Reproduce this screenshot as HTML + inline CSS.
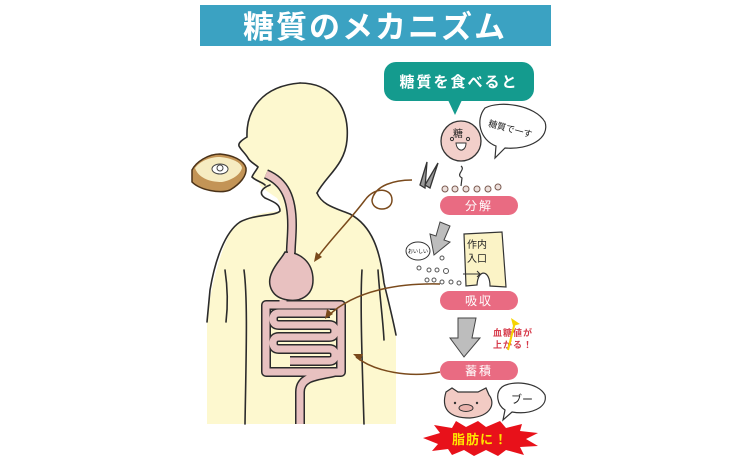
<!DOCTYPE html>
<html><head><meta charset="utf-8"><style>
html,body{margin:0;padding:0;background:#fff;}
svg{display:block;}
text{font-family:"Liberation Sans","Noto Sans CJK JP",sans-serif;}
</style></head><body>
<svg width="750" height="464" viewBox="0 0 750 464" xmlns="http://www.w3.org/2000/svg">
<rect width="750" height="464" fill="#fff"/>
<rect x="200" y="5" width="351" height="41" fill="#3ba2c2"/>
<text x="375" y="38" font-size="31" font-weight="bold" fill="#fff" text-anchor="middle" letter-spacing="2">糖質のメカニズム</text>

<path d="M300,83 C330,83 350,105 347,140 C345,165 326,176 317,193 C322,205 335,208 350,214 C372,226 380,250 384,283 L396,335 L396,424 L207,424 L207,320 C210,290 220,250 233,227 C248,214 268,212 280,211 C282,205 278,200 277,198 C268,192 262,188 260,185 C258,180 255,178 252,177 C256,172 258,168 258,167 C252,162 248,160 248,158 C244,152 240,149 238,145 C240,140 245,137 247,137 C245,120 255,88 300,83 Z" fill="#fdf8cf"/>
<g fill="none" stroke="#2b2b2b" stroke-width="1.6" stroke-linecap="round">
<path d="M317,193 C322,205 335,208 350,214 C372,226 380,250 384,283 C388,300 392,315 396,335"/>
<path d="M300,83 C330,83 350,105 347,140 C345,165 326,176 317,193"/>
<path d="M300,83 C262,86 246,110 247,137 C242,140 238,143 239,146 C241,150 245,153 248,158 C250,162 255,164 258,167 C256,171 253,174 252,177 C256,181 262,182 265,185"/>
<path d="M270,185 C262,188 258,193 265,198 C274,202 280,204 280,211 C276,216 255,214 240,222 C225,232 215,260 210,290 L207,322"/>
<path d="M225,270 C228,290 228,305 226,322"/>
<path d="M244,270 C248,300 246,360 245,424"/>
<path d="M362,270 C360,300 362,360 364,424"/>
<path d="M378,270 C380,300 383,320 384,340"/>
</g>
<!-- digestive tract -->
<defs>
<g id="tract">
<path d="M266,174 C285,182 292,198 292,225 C292,240 290,250 291,262"/>
<path d="M283,300 L283,305 L341,305 L341,372 L266,372 L266,305 L283,305"/>
<path d="M335,372 C318,376 300,376 300,392 L300,424"/>
<path d="M330,313 L279,313 Q273,313 273,319 Q273,325 279,325 L329,325 Q335,325 335,331 Q335,337 329,337 L279,337 Q273,337 273,343 Q273,349 279,349 L329,349 Q335,349 335,355 Q335,361 329,361 L290,361"/>
</g>
</defs>
<use href="#tract" fill="none" stroke="#2b2b2b" stroke-width="10" stroke-linejoin="round" stroke-linecap="butt"/>
<use href="#tract" fill="none" stroke="#e8c1c0" stroke-width="7" stroke-linejoin="round" stroke-linecap="butt"/>
<path d="M285,252 C300,252 313,262 313,280 C313,296 300,302 288,300 C272,298 266,285 272,272 C276,263 282,258 285,252Z" fill="#e8c1c0" stroke="#2b2b2b" stroke-width="1.5"/>
<path d="M288,246 L294,246 L294,258 L288,258Z" fill="#e8c1c0"/>
<!-- toast -->
<path d="M192,170 C196,162 208,154 220,154 C232,155 244,160 246,168 C247,176 240,184 230,190 C220,194 200,190 192,182 Z" fill="#c39456" stroke="#4a3218" stroke-width="1.5"/>
<path d="M195,168 C200,161 210,157 220,157 C231,158 241,162 242,168 C240,175 232,180 222,182 C208,182 198,177 195,168 Z" fill="#f6ecc2"/>
<ellipse cx="220" cy="169" rx="8" ry="5" fill="#fff" stroke="#444" stroke-width="1"/>
<circle cx="220" cy="168" r="3" fill="#fff" stroke="#444" stroke-width="1"/>

<g fill="none" stroke="#7a4a1c" stroke-width="1.5">
<path d="M412,180 C395,180 375,185 372,200 C372,212 392,212 392,200 C392,188 375,186 365,200 C350,220 330,240 317,258"/>
<path d="M440,284 C400,283 355,290 328,316"/>
<path d="M440,372 C410,378 375,372 356,357"/>
</g>
<g fill="#7a4a1c">
<polygon points="314,262 316,252 322,257"/>
<polygon points="325,319 327,309 333,314"/>
<polygon points="353,354 363,354 360,361"/>
</g>

<rect x="384" y="62" width="150" height="39" rx="12" fill="#149b8e"/>
<polygon points="448,100 462,100 455,115" fill="#149b8e"/>
<text x="459" y="87" font-size="15" font-weight="bold" fill="#fff" text-anchor="middle" letter-spacing="2">糖質を食べると</text>
<circle cx="461" cy="141" r="20" fill="#f2cfca" stroke="#333" stroke-width="1.3"/>
<text x="458" y="137" font-size="10" fill="#222" text-anchor="middle">糖</text>
<circle cx="452" cy="139" r="1.6" fill="none" stroke="#333"/>
<circle cx="468" cy="139" r="1.6" fill="none" stroke="#333"/>
<path d="M456,143 L466,143 C466,152 457,153 456,143Z" fill="#fff" stroke="#333" stroke-width="1"/>
<path d="M485,108 C500,100 535,105 545,122 C550,138 530,150 505,148 L495,158 L496,146 C480,140 475,120 485,108Z" fill="#fff" stroke="#333" stroke-width="1.2"/>
<text x="510" y="132" font-size="9" fill="#222" text-anchor="middle" transform="rotate(15 510 130)">糖質で一す</text>
<g stroke="#333" stroke-width="1.3" fill="#999">
<path d="M427,162 L420,185 L425,188 Z"/>
<path d="M438,163 L425,185 L430,188 Z"/>
</g>
<path d="M461,166 C466,170 455,174 462,178 L461,186" fill="none" stroke="#333" stroke-width="1.2"/>
<g fill="#ede0dc" stroke="#7a5a50" stroke-width="1">
<circle cx="445" cy="189" r="3"/><circle cx="455" cy="189" r="3"/><circle cx="466" cy="189" r="3"/><circle cx="477" cy="189" r="3"/><circle cx="488" cy="189" r="3"/><circle cx="498" cy="187" r="3"/>
</g>
<rect x="440" y="196" width="78" height="19" rx="9.5" fill="#e96b82"/>
<text x="479" y="210" font-size="12" fill="#fff" text-anchor="middle" letter-spacing="2">分解</text>
<rect x="440" y="291" width="78" height="19" rx="9.5" fill="#e96b82"/>
<text x="479" y="305" font-size="12" fill="#fff" text-anchor="middle" letter-spacing="2">吸収</text>
<rect x="440" y="361" width="78" height="19" rx="9.5" fill="#e96b82"/>
<text x="479" y="375" font-size="12" fill="#fff" text-anchor="middle" letter-spacing="2">蓄積</text>
<polygon points="440,222 450,226 444,240 450,242 434,255 430,234 436,236" fill="#bdbdbd" stroke="#444" stroke-width="1"/>
<polygon points="458,318 476,318 472,338 480,338 464,357 450,338 458,338" fill="#bdbdbd" stroke="#444" stroke-width="1"/>
<path d="M464,234 L502,232 L506,287 L490,286 C490,270 478,268 477,285 L466,286 Z" fill="#fbf3c6" stroke="#333" stroke-width="1.2"/>
<text x="467" y="248" font-size="10" fill="#222">作内</text>
<text x="467" y="262" font-size="10" fill="#222">入口</text>
<path d="M463,274 L480,274 M477,271 L480,274 L477,277" fill="none" stroke="#333" stroke-width="1"/>
<ellipse cx="418" cy="251" rx="12" ry="9" fill="#fff" stroke="#333" stroke-width="1"/>
<text x="418" y="253" font-size="5" text-anchor="middle">おいしい</text>
<g fill="#fff" stroke="#555" stroke-width="1">
<circle cx="419" cy="268" r="2"/><circle cx="429" cy="270" r="2"/><circle cx="437" cy="270" r="2"/><circle cx="446" cy="271" r="2.5"/><circle cx="442" cy="258" r="2"/>
<circle cx="427" cy="280" r="2"/><circle cx="434" cy="280" r="2"/><circle cx="442" cy="282" r="2"/><circle cx="451" cy="282" r="2"/><circle cx="459" cy="283" r="2"/>
</g>
<text x="493" y="336" font-size="9" font-weight="bold" fill="#d63a4a" letter-spacing="1">血糖値が</text>
<text x="493" y="348" font-size="9" font-weight="bold" fill="#d63a4a" letter-spacing="1">上がる！</text>
<path d="M508,350 L515,322" stroke="#f5d400" stroke-width="2" fill="none"/>
<polygon points="511,318 520,324 513,326" fill="#f5d400"/>
<path d="M446,392 L452,388 L458,392 L478,392 L486,388 L489,395 C495,402 493,416 470,418 C448,418 441,408 446,392Z" fill="#f2cbc4" stroke="#333" stroke-width="1.2"/>
<ellipse cx="466" cy="408" rx="7" ry="3.5" fill="#e9b2ac" stroke="#333" stroke-width="1"/>
<circle cx="455" cy="403" r="1.2" fill="#333"/><circle cx="477" cy="403" r="1.2" fill="#333"/>
<path d="M502,387 C512,380 538,382 545,395 C548,408 530,415 512,412 L503,420 L505,410 C497,405 495,393 502,387Z" fill="#fff" stroke="#333" stroke-width="1.2"/>
<text x="522" y="403" font-size="11" fill="#222" text-anchor="middle">ブー</text>
<polygon points="423,438 440,433 434,425 452,428 456,421 466,427 478,421 486,427 500,421 506,428 522,424 520,431 538,433 526,439 538,446 520,447 524,455 506,450 498,456 486,450 474,456 464,450 452,455 448,449 432,451 438,444" fill="#e8111a"/>
<text x="480" y="444" font-size="13" font-weight="bold" fill="#ffe600" text-anchor="middle" letter-spacing="1">脂肪に！</text>
</svg>
</body></html>
